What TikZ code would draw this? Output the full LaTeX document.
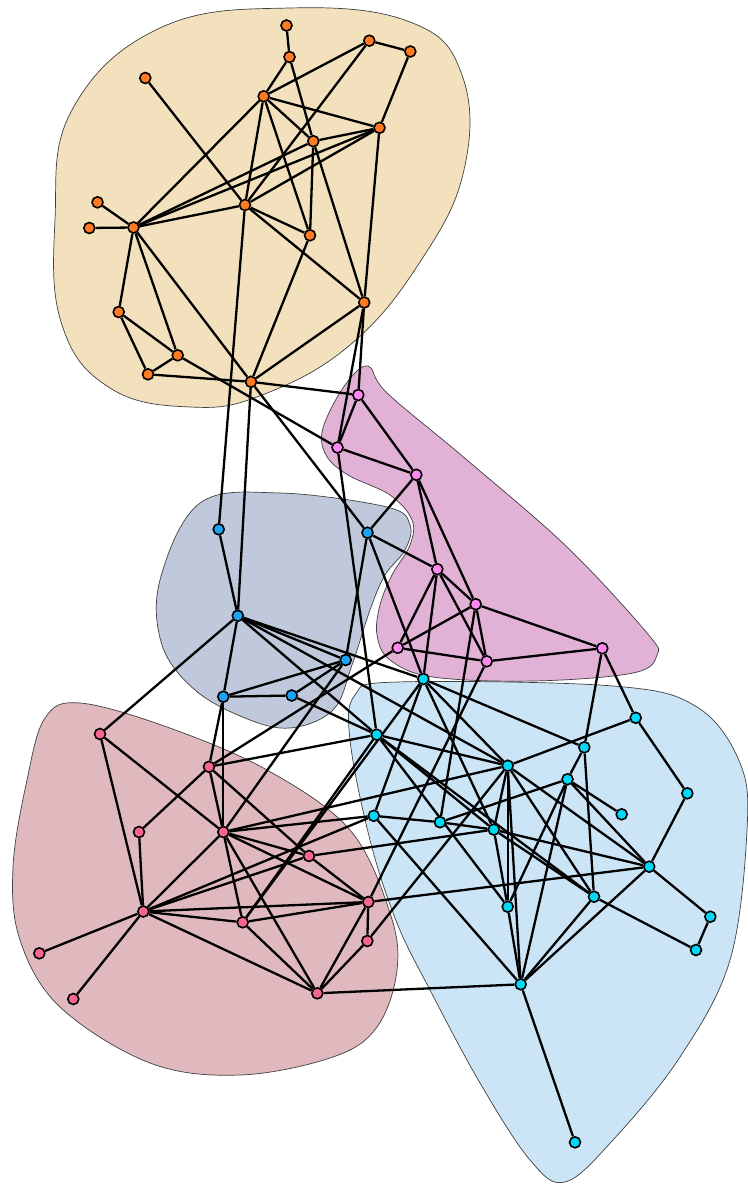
\documentclass[tikz,border=0pt]{standalone}
\usetikzlibrary{backgrounds}
\pgfdeclarelayer{hulls}
\pgfdeclarelayer{links}
\pgfsetlayers{hulls,links,main}
\definecolor{hOr}{HTML}{F2E1BC}
\definecolor{hMa}{HTML}{E1B1D6}
\definecolor{hSt}{HTML}{BFC9DB}
\definecolor{hRe}{HTML}{E0B9BE}
\definecolor{hCy}{HTML}{CBE5F6}
\definecolor{nOr}{HTML}{FF7A22}
\definecolor{nMa}{HTML}{FF88F0}
\definecolor{nSt}{HTML}{1CA3F5}
\definecolor{nRe}{HTML}{F76690}
\definecolor{nCy}{HTML}{00D8F5}
\tikzset{
  vtx/.style={circle,draw=black,line width=1.6pt,inner sep=0pt,minimum size=11pt},
  vo/.style={vtx,fill=nOr}, vm/.style={vtx,fill=nMa}, vs/.style={vtx,fill=nSt},
  vr/.style={vtx,fill=nRe}, vc/.style={vtx,fill=nCy},
  hull/.style={draw=black!75,line width=0.7pt},
  lk/.style={line width=2.3pt,black}
}
\begin{document}
\begin{tikzpicture}[x=1pt,y=-1pt]
\useasboundingbox (0,0) rectangle (747,1185);
% ---- vertices ----
\foreach \n/\x/\y in {o1/286.5/25.5,o2/289.5/57,o3/369.3/40.7,o4/410.3/51.5,o5/145.3/78,o6/263.7/96.3,o7/379.5/127.8,o8/313.3/141.2,o9/97.5/202.3,o10/89.3/228,o11/133.5/227.5,o12/245/205,o13/310/235.3,o14/364.2/302.5,o15/118.7/312,o16/177.7/355.3,o17/148/374.3,o18/251/381.8}
  \node[vo] (\n) at (\x,\y) {};
\foreach \n/\x/\y in {p1/358.3/395,p2/337.5/447.5,p3/416.3/474.8,p4/437.3/569.2,p5/475.7/604.2,p6/397.7/647.8,p7/486.7/661.3,p8/602.3/648.3}
  \node[vm] (\n) at (\x,\y) {};
\foreach \n/\x/\y in {b1/218.7/529.3,b2/367.5/532.7,b3/237.8/615.8,b4/345.7/660,b5/223.3/696.7,b6/291.7/695.5}
  \node[vs] (\n) at (\x,\y) {};
\foreach \n/\x/\y in {r1/100/734,r2/209/766.8,r3/139/832,r4/223.3/832,r5/309/856,r6/143.3/911.5,r7/242.7/922.3,r8/368.3/902,r9/367.3/941,r10/39.3/953.3,r11/73.3/999,r12/317.3/993.3}
  \node[vr] (\n) at (\x,\y) {};
\foreach \n/\x/\y in {c1/423.3/679,c2/376.7/734.7,c3/635.7/717.8,c4/584.3/747.3,c5/507.7/765.7,c6/567.5/779.3,c7/687.3/793.3,c8/621.7/814.3,c9/373.8/815.8,c10/440/822.2,c11/493.8/829.6,c12/649.2/866.7,c13/507.7/906.7,c14/594/896.7,c15/710.3/916.7,c16/696/950,c17/520.7/984.3,c18/575/1142.3}
  \node[vc] (\n) at (\x,\y) {};
% ---- group hulls ----
\begin{pgfonlayer}{hulls}
\fill[hOr] plot[smooth cycle,tension=0.7] coordinates {(160,28) (290,8) (410,22) (462,75) (464,170) (420,262) (350,345) (262,395) (190,407) (110,388) (62,325) (55,220) (72,110)};
\draw[hull] plot[smooth cycle,tension=0.7] coordinates {(160,28) (290,8) (410,22) (462,75) (464,170) (420,262) (350,345) (262,395) (190,407) (110,388) (62,325) (55,220) (72,110)};
\fill[hSt] plot[smooth cycle,tension=0.6] coordinates {(200,503) (280,493) (387,507) (410,525) (405,550) (385,575) (370,610) (352,665) (333,710) (290,728) (245,718) (195,690) (162,645) (160,580)};
\draw[hull] plot[smooth cycle,tension=0.6] coordinates {(200,503) (280,493) (387,507) (410,525) (405,550) (385,575) (370,610) (352,665) (333,710) (290,728) (245,718) (195,690) (162,645) (160,580)};
\fill[hMa] plot[smooth cycle,tension=0.6] coordinates {(368,366) (387,393) (467,460) (567,547) (647,633) (657,655) (633,673) (533,681) (433,677) (390,660) (377,635) (380,605) (392,575) (410,545) (412,520) (390,495) (348,475) (326,455) (323,428) (345,385)};
\draw[hull] plot[smooth cycle,tension=0.6] coordinates {(368,366) (387,393) (467,460) (567,547) (647,633) (657,655) (633,673) (533,681) (433,677) (390,660) (377,635) (380,605) (392,575) (410,545) (412,520) (390,495) (348,475) (326,455) (323,428) (345,385)};
\fill[hRe] plot[smooth cycle,tension=0.6] coordinates {(80,703) (167,727) (267,770) (350,830) (390,913) (397,970) (377,1027) (333,1057) (240,1075) (150,1063) (60,1007) (20,940) (13,867) (27,780) (45,718)};
\draw[hull] plot[smooth cycle,tension=0.6] coordinates {(80,703) (167,727) (267,770) (350,830) (390,913) (397,970) (377,1027) (333,1057) (240,1075) (150,1063) (60,1007) (20,940) (13,867) (27,780) (45,718)};
\fill[hCy] plot[smooth cycle,tension=0.6] coordinates {(397,682) (613,686) (697,707) (740,763) (747,830) (730,960) (680,1057) (613,1140) (565,1182) (530,1160) (480,1083) (430,990) (397,923) (370,840) (350,740) (355,695)};
\draw[hull] plot[smooth cycle,tension=0.6] coordinates {(397,682) (613,686) (697,707) (740,763) (747,830) (730,960) (680,1057) (613,1140) (565,1182) (530,1160) (480,1083) (430,990) (397,923) (370,840) (350,740) (355,695)};
\end{pgfonlayer}
% ---- links ----
\begin{pgfonlayer}{links}
\foreach \a/\b in {o1/o2,o2/o6,o2/o8,o3/o4,o3/o6,o3/o12,o4/o7,o6/o7,o6/o8,o6/o11,o6/o12,o6/o13,o7/o8,o7/o11,o7/o12,o7/o14,o8/o11,o8/o13,o8/o14,o5/o12,o9/o11,o10/o11,o11/o12,o11/o15,o11/o16,o11/o18,o12/o13,o12/o14,o13/o18,o14/o18,o15/o16,o15/o17,o16/o17,o17/o18,
  p1/o14,p1/o18,p2/o14,p2/o16,p1/p2,p1/p3,p2/p3,p2/c2,p3/b2,p3/p4,p3/p5,b2/p4,p4/p5,p4/p6,p4/p7,p4/c1,p5/p6,p5/p7,p5/p8,p5/c10,p6/p7,p7/p8,p8/c3,p8/c4,p6/r2,p7/r8,
  b1/o12,b1/b3,b3/o18,b2/o18,b3/r1,b3/b5,b3/b4,b3/c1,b3/c5,b3/c2,b2/b4,b2/c1,b4/b5,b4/b6,b4/r4,b5/b6,b5/r2,b5/r4,b6/c2,
  r1/r4,r1/r6,r2/r3,r2/r4,r2/c2,r2/r5,r3/r6,r4/r5,r4/r6,r4/r7,r4/r8,r4/r12,r4/c9,r4/c5,r5/r6,r5/r8,r5/c11,r6/r7,r6/r8,r6/r10,r6/r11,r6/r12,r6/c9,r7/r8,r7/r12,r7/c2,r7/c1,r8/r9,r8/r12,r8/c12,r9/r12,r9/c5,r12/c17,
  c1/c4,c1/c5,c1/c11,c1/c9,c2/c5,c2/c11,c2/c14,c2/c13,c3/c5,c3/c7,c4/c6,c4/c14,c5/c11,c5/c12,c5/c14,c5/c13,c5/c17,c6/c10,c6/c8,c6/c12,c6/c13,c6/c17,c7/c12,c9/c10,c9/c17,c10/c11,c11/c12,c11/c13,c11/c14,c12/c15,c12/c17,c13/c17,c14/c16,c14/c17,c15/c16,c17/c18}
  \draw[lk] (\a) -- (\b);
\end{pgfonlayer}
\end{tikzpicture}
\end{document}
